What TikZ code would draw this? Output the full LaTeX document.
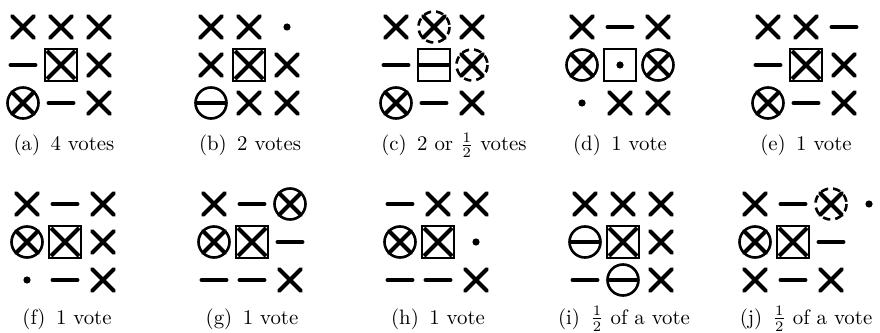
\documentclass[tikz,border=0pt]{standalone}
\usepackage{amsmath,amssymb}
\usepackage{tikz}

\tikzset{
  markline/.style={line width=1.9pt,line cap=round},
  ringline/.style={line width=1.25pt},
  subcap/.style={inner sep=0pt,outer sep=0pt,anchor=base,font=\fontsize{10}{12}\selectfont},
  pics/crossmk/.style={code={\draw[markline] (-11,-11) -- (11,11) (-11,11) -- (11,-11);}},
  pics/barmk/.style={code={\draw[markline] (-12.5,0) -- (12.5,0);}},
  pics/dotmk/.style={code={\fill (0,0) circle[radius=3.6];}},
  pics/ocross/.style={code={\draw[ringline] (0,0) circle[radius=15.5];
    \draw[markline] (-11,-11) -- (11,11) (-11,11) -- (11,-11);}},
  pics/ominus/.style={code={\draw[ringline] (0,0) circle[radius=15.5];
    \draw[line width=1.9pt] (-15.5,0) -- (15.5,0);}},
  pics/qcross/.style={code={\draw[ringline,dash pattern=on 3.6pt off 2.4pt] (0,0) circle[radius=15.5];
    \draw[markline] (-11,-11) -- (11,11) (-11,11) -- (11,-11);}},
  pics/boxcross/.style={code={\draw[ringline] (-16,-16) rectangle (16,16);
    \draw[markline,line cap=butt] (-14,-14) -- (14,14) (-14,14) -- (14,-14);}},
  pics/boxminus/.style={code={\draw[ringline] (-16,-16) rectangle (16,16);
    \draw[line width=1.9pt] (-16,0) -- (16,0);}},
  pics/boxdot/.style={code={\draw[ringline] (-16,-16) rectangle (16,16);
    \fill (0,0) circle[radius=3.6];}}
}

\begin{document}
\begin{tikzpicture}[x=0.48pt,y=-0.48pt]
\path[use as bounding box] (0,0) rectangle (880,333);
\path[fill=white,draw=none] (0,0) rectangle (880,333);
% ten ballots: grid centre, caption position, cells row by row, caption
\foreach \cx/\cy/\lx/\ly/\cells/\lbl [count=\n] in {
  61/65/64/150.5/{crossmk,crossmk,crossmk,barmk,boxcross,crossmk,ocross,barmk,crossmk}/{(a)\enspace 4 votes},
  249/65/250/150.5/{crossmk,crossmk,dotmk,crossmk,boxcross,crossmk,ominus,crossmk,crossmk}/{(b)\enspace 2 votes},
  434/65/454/150.5/{crossmk,qcross,crossmk,barmk,boxminus,qcross,ocross,barmk,crossmk}/{(c)\enspace 2 or $\frac{1}{2}$ votes},
  620/65/620/150.5/{crossmk,barmk,crossmk,ocross,boxdot,ocross,dotmk,crossmk,crossmk}/{(d)\enspace 1 vote},
  806/65/806/150.5/{crossmk,crossmk,barmk,barmk,boxcross,crossmk,ocross,barmk,crossmk}/{(e)\enspace 1 vote},
  65/242/67/324/{crossmk,barmk,crossmk,ocross,boxcross,crossmk,dotmk,barmk,crossmk}/{(f)\enspace 1 vote},
  252/242/252/324/{crossmk,barmk,ocross,ocross,boxcross,barmk,barmk,barmk,crossmk}/{(g)\enspace 1 vote},
  438/242/438/324/{barmk,crossmk,crossmk,ocross,boxcross,dotmk,barmk,barmk,crossmk}/{(h)\enspace 1 vote},
  623/242/624/324/{crossmk,crossmk,crossmk,ominus,boxcross,crossmk,barmk,ominus,crossmk}/{(i)\enspace $\frac{1}{2}$ of a vote},
  793/242/806/324/{crossmk,barmk,qcross,ocross,boxcross,barmk,crossmk,barmk,crossmk}/{(j)\enspace $\frac{1}{2}$ of a vote}
}{
  \foreach \s [count=\k from 0] in \cells {
    \pgfmathsetmacro\px{\cx+38*(mod(\k,3)-1)}
    \pgfmathsetmacro\py{\cy+38*(floor(\k/3)-1)}
    \pic at (\px,\py) {\s};
  }
  \node[subcap] (cap\n) at (\lx,\ly) {\lbl};
}
% extra mark beside ballot (j)
\pic at (869,204) {dotmk};
\end{tikzpicture}
\end{document}
